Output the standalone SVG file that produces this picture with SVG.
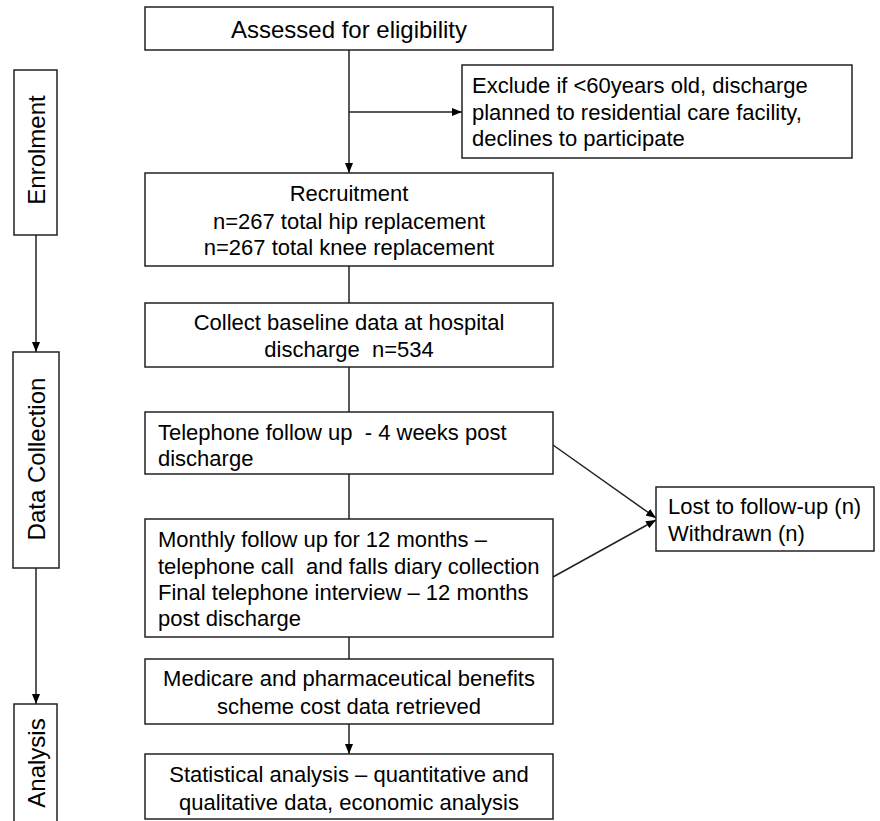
<svg xmlns="http://www.w3.org/2000/svg" width="880" height="821" viewBox="0 0 880 821">
<style>
  .box { fill: #fff; stroke: #222; stroke-width: 1.5; }
  .t { font-family: "Liberation Sans", Arial, sans-serif; font-size: 22px; fill: #000; }
  .big { font-size: 24px; }
  .c { text-anchor: middle; }
  .side { text-anchor: middle; dominant-baseline: central; font-size: 24px; }
  .ln { stroke: #222; stroke-width: 1.5; fill: none; }
</style>
<defs>
  <marker id="ah" viewBox="0 0 10 10" refX="10" refY="5" markerWidth="10" markerHeight="10" markerUnits="userSpaceOnUse" orient="auto">
    <path d="M0,1 L10,5 L0,9 Z" fill="#000"/>
  </marker>
</defs>
<rect width="880" height="821" fill="#fff"/>
<g id="connectors">
  <line class="ln" x1="349" y1="50" x2="349" y2="173" marker-end="url(#ah)"/>
  <line class="ln" x1="349" y1="112" x2="462" y2="112" marker-end="url(#ah)"/>
  <line class="ln" x1="349" y1="266" x2="349" y2="303"/>
  <line class="ln" x1="349" y1="367" x2="349" y2="412"/>
  <line class="ln" x1="349" y1="474" x2="349" y2="519"/>
  <line class="ln" x1="349" y1="637" x2="349" y2="659"/>
  <line class="ln" x1="349" y1="724" x2="349" y2="754" marker-end="url(#ah)"/>
  <line class="ln" x1="553" y1="445" x2="656" y2="518" marker-end="url(#ah)"/>
  <line class="ln" x1="553" y1="577" x2="656" y2="520" marker-end="url(#ah)"/>
  <line class="ln" x1="36" y1="235" x2="36" y2="352" marker-end="url(#ah)"/>
  <line class="ln" x1="36" y1="568" x2="36" y2="704" marker-end="url(#ah)"/>
</g>
<g id="enrolment">
  <rect class="box" x="14" y="70" width="43" height="165"/>
  <text class="t side" transform="translate(36,150) rotate(-90)">Enrolment</text>
</g>
<g id="data-collection">
  <rect class="box" x="13" y="352" width="46" height="216"/>
  <text class="t side" transform="translate(36,459) rotate(-90)">Data Collection</text>
</g>
<g id="analysis">
  <rect class="box" x="14" y="704" width="43" height="130"/>
  <text class="t side" transform="translate(36,763) rotate(-90)">Analysis</text>
</g>
<g id="assessed">
  <rect class="box" x="145" y="7" width="408" height="43"/>
  <text class="t big c" x="349" y="38">Assessed for eligibility</text>
</g>
<g id="exclude">
  <rect class="box" x="462" y="65" width="390" height="93"/>
  <text class="t" x="472" y="93">Exclude if &lt;60years old, discharge</text>
  <text class="t" x="472" y="120">planned to residential care facility,</text>
  <text class="t" x="472" y="146">declines to participate</text>
</g>
<g id="recruitment">
  <rect class="box" x="145" y="173" width="408" height="93"/>
  <text class="t c" x="349" y="201">Recruitment</text>
  <text class="t c" x="349" y="229">n=267 total hip replacement</text>
  <text class="t c" x="349" y="255">n=267 total knee replacement</text>
</g>
<g id="baseline">
  <rect class="box" x="145" y="303" width="408" height="64"/>
  <text class="t c" x="349" y="330">Collect baseline data at hospital</text>
  <text class="t c" x="349" y="357" xml:space="preserve">discharge  n=534</text>
</g>
<g id="telephone">
  <rect class="box" x="145" y="412" width="408" height="62"/>
  <text class="t" x="158" y="440" xml:space="preserve">Telephone follow up  - 4 weeks post</text>
  <text class="t" x="158" y="466">discharge</text>
</g>
<g id="monthly">
  <rect class="box" x="145" y="519" width="408" height="118"/>
  <text class="t" x="158" y="547">Monthly follow up for 12 months –</text>
  <text class="t" x="158" y="574" xml:space="preserve">telephone call  and falls diary collection</text>
  <text class="t" x="158" y="600">Final telephone interview – 12 months</text>
  <text class="t" x="158" y="626">post discharge</text>
</g>
<g id="lost">
  <rect class="box" x="656" y="487" width="218" height="64"/>
  <text class="t" x="668" y="514">Lost to follow-up (n)</text>
  <text class="t" x="668" y="541">Withdrawn (n)</text>
</g>
<g id="medicare">
  <rect class="box" x="145" y="659" width="408" height="65"/>
  <text class="t c" x="349" y="686">Medicare and pharmaceutical benefits</text>
  <text class="t c" x="349" y="714">scheme cost data retrieved</text>
</g>
<g id="statistical">
  <rect class="box" x="145" y="754" width="408" height="65"/>
  <text class="t c" x="349" y="782">Statistical analysis – quantitative and</text>
  <text class="t c" x="349" y="810">qualitative data, economic analysis</text>
</g>
</svg>
